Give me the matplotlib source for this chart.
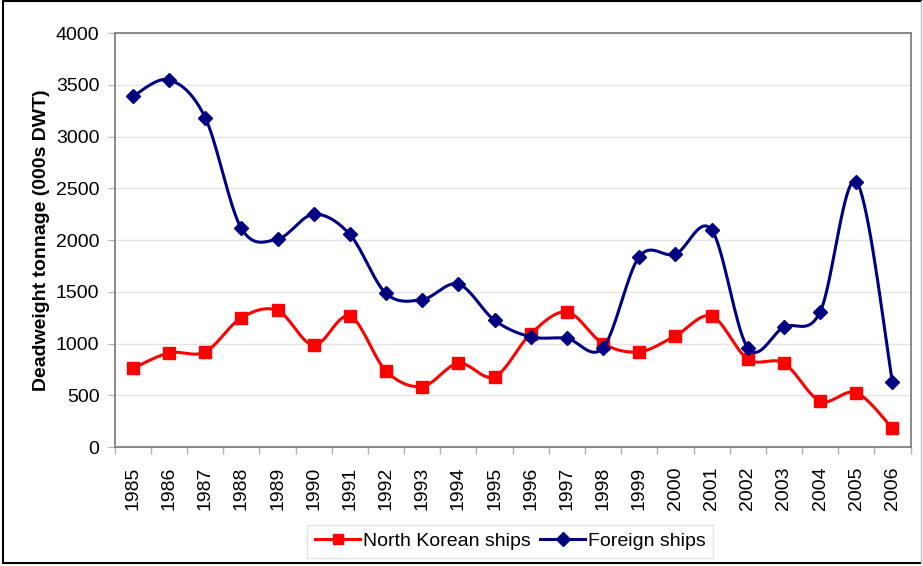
import matplotlib
matplotlib.use("Agg")
import matplotlib.pyplot as plt
import numpy as np
from matplotlib.lines import Line2D

plt.rcParams['font.family'] = ['Liberation Sans', 'DejaVu Sans']

years = [str(y) for y in range(1985, 2007)]
north_korean = [760, 910, 920, 1250, 1320, 985, 1265, 735, 585, 810, 680,
                1095, 1305, 1000, 920, 1075, 1265, 850, 810, 445, 525, 180]
foreign = [3390, 3550, 3185, 2115, 2010, 2250, 2055, 1485, 1425, 1575, 1225,
           1065, 1050, 960, 1840, 1865, 2100, 960, 1160, 1305, 2565, 625]

opline = {"linewidth": 2.2, "solid_joinstyle": "round"}
fs = 14


def smooth(x, y, n=20):
    # Excel-style smoothed line: cubic bezier between neighbouring points
    x, y = np.asarray(x, float), np.asarray(y, float)
    px = np.concatenate([[x[0]], x, [x[-1]]])
    py = np.concatenate([[y[0]], y, [y[-1]]])
    t = np.linspace(0, 1, n)[:, None]
    xs, ys = [], []
    for i in range(1, len(px) - 2):
        p0 = np.array([px[i], py[i]])
        p3 = np.array([px[i + 1], py[i + 1]])
        c1 = p0 + (p3 - np.array([px[i - 1], py[i - 1]])) / 6
        c2 = p3 - (np.array([px[i + 2], py[i + 2]]) - p0) / 6
        b = ((1 - t) ** 3) * p0 + 3 * ((1 - t) ** 2) * t * c1 + 3 * (1 - t) * t ** 2 * c2 + t ** 3 * p3
        xs.append(b[:, 0])
        ys.append(b[:, 1])
    return np.concatenate(xs), np.concatenate(ys)


fig = plt.figure(figsize=(9.23, 5.66), dpi=100)
ax = fig.add_axes([0.1243, 0.2102, 0.8622, 0.7310])

x = np.arange(len(years))
for vals, col, mk, ms in [(north_korean, "#FF0000", "s", 8), (foreign, "#000080", "D", 7.5)]:
    sx, sy = smooth(x, vals)
    ax.plot(sx, sy, color=col, **opline)
    ax.plot(x, vals, linestyle="none", marker=mk, markersize=ms, color=col)

ax.set_xlim(-0.5, len(years) - 0.5)
ax.set_ylim(0, 4000)
ax.set_yticks(range(0, 4001, 500))
ax.set_xticks(x)
ax.set_xticklabels(years, rotation=90, fontsize=fs)
ax.set_xticks(np.arange(-0.5, len(years), 1), minor=True)
ax.tick_params(axis="x", which="major", length=0, pad=14)
ax.tick_params(axis="x", which="minor", length=5, color="#b0b0b0", width=1)
ax.tick_params(axis="y", length=5, color="#b0b0b0", labelsize=fs, pad=6)
ax.grid(axis="y", color="#e4e4e4", linewidth=1)
ax.set_axisbelow(True)
for s in ax.spines.values():
    s.set_color("#808080")
    s.set_linewidth(1.3)
ax.set_ylabel("Deadweight tonnage (000s DWT)", fontsize=fs, fontweight="bold", labelpad=4)

handles = [Line2D([], [], color="#FF0000", marker="s", markersize=7, linewidth=2.2),
           Line2D([], [], color="#000080", marker="D", markersize=7, linewidth=2.2)]
leg = fig.legend(handles, ["North Korean ships", "Foreign ships"], loc="center",
                 bbox_to_anchor=(0.553, 0.044), ncol=2, fontsize=fs, fancybox=False,
                 handlelength=2.3, handletextpad=0.15, columnspacing=0.5, borderpad=0.4,
                 borderaxespad=0.3)
leg.get_frame().set_edgecolor("#dddddd")
leg.get_frame().set_linewidth(1)

# outer chart border
fig.add_artist(Line2D([3 / 923, 3 / 923, 921 / 923], [3 / 566, 565 / 566, 565 / 566],
                      color="black", linewidth=1.5, transform=fig.transFigure))
fig.add_artist(Line2D([3 / 923, 921 / 923], [3 / 566, 3 / 566], color="black", linewidth=1.5,
                      transform=fig.transFigure))
fig.add_artist(Line2D([921 / 923, 921 / 923], [3 / 566, 565 / 566], color="#c0c0c0", linewidth=1,
                      transform=fig.transFigure))

fig.savefig("out.png", dpi=100)
